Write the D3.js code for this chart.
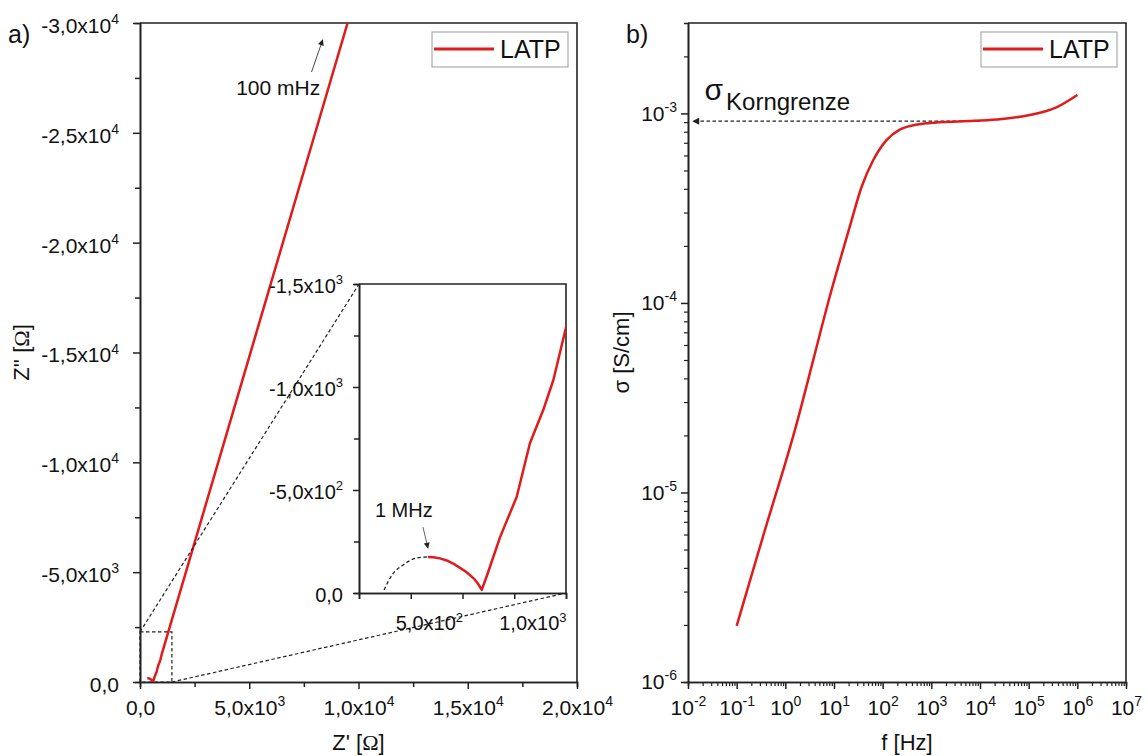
<!DOCTYPE html>
<html><head><meta charset="utf-8">
<script src="https://cdn.jsdelivr.net/npm/d3@7"></script>
<style>
body{margin:0;background:#fff}
svg text{font-family:"Liberation Sans",Arial,sans-serif;fill:#111}
</style>
</head><body>
<svg id="c" width="1148" height="756"></svg>
<script>
// ---------- data ----------
const seriesName = "LATP";
// Nyquist data (Z' in Ohm, -Z'' in Ohm)
const nyqZre = [333, 360, 391, 424, 455, 488, 515, 536, 555, 575, 593, 620, 681, 762, 826, 890, 939, 999, 3000, 6000, 9500, 9800];
const nyqZim = [175, 174, 168, 158, 143, 122, 104, 87, 70, 45, 15, 90, 270, 467, 728, 888, 1034, 1285, 8040, 18180, 30000, 31000];
// dashed semicircle fit (inset)
const arcZre = [121, 159, 213, 280, 333];
const arcZim = [15, 87, 136, 170, 175];
const zoomBox = [1460, 2280];
const leftXTicks = [0, 5000, 10000, 15000, 20000];
const leftXTickLabels = ["0,0", "5,0x10^3", "1,0x10^4", "1,5x10^4", "2,0x10^4"];
const leftYTicks = [0, 5000, 10000, 15000, 20000, 25000, 30000];
const leftYTickLabels = ["0,0", "-5,0x10^3", "-1,0x10^4", "-1,5x10^4", "-2,0x10^4", "-2,5x10^4", "-3,0x10^4"];
const insetXTicks = [500, 1000];
const insetXTickLabels = ["5,0x10^2", "1,0x10^3"];
const insetYTicks = [0, 500, 1000, 1500];
const insetYTickLabels = ["0,0", "-5,0x10^2", "-1,0x10^3", "-1,5x10^3"];
// conductivity vs frequency
const freq  = [0.1, 0.352, 1.71, 3.74, 7.85, 13.2, 22.9, 36.8, 63.8, 120, 224, 427, 933, 4470, 21900, 105000, 372000, 1.0e6];
const sigma = [1.98e-6, 5.92e-6, 2.31e-5, 4.99e-5, 1.04e-4, 1.67e-4, 2.72e-4, 4.09e-4, 5.66e-4, 7.23e-4, 8.22e-4, 8.67e-4, 8.91e-4, 9.1e-4, 9.29e-4, 9.8e-4, 1.076e-3, 1.25e-3];
const rightXTicks = [1e-2, 1e-1, 1e0, 1e1, 1e2, 1e3, 1e4, 1e5, 1e6, 1e7];
const rightXTickLabels = ["10^-2", "10^-1", "10^0", "10^1", "10^2", "10^3", "10^4", "10^5", "10^6", "10^7"];
const rightYTicks = [1e-6, 1e-5, 1e-4, 1e-3];
const rightYTickLabels = ["10^-6", "10^-5", "10^-4", "10^-3"];
const sigmaGB = 9.1e-4;

// ---------- setup ----------
const RED = "#e01b1b", INK = "#222";
const svg = d3.select("#c");
const defs = svg.append("defs");
defs.append("marker").attr("id", "arr").attr("viewBox", "0 0 10 10").attr("refX", 9).attr("refY", 5)
  .attr("markerWidth", 7).attr("markerHeight", 6).attr("markerUnits", "userSpaceOnUse").attr("orient", "auto")
  .append("path").attr("d", "M0,0 L10,5 L0,10 Z").attr("fill", "#222");
defs.append("marker").attr("id", "arr2").attr("viewBox", "0 0 10 10").attr("refX", 9).attr("refY", 5)
  .attr("markerWidth", 10).attr("markerHeight", 7).attr("markerUnits", "userSpaceOnUse").attr("orient", "auto")
  .append("path").attr("d", "M0,0 L10,5 L0,10 Z").attr("fill", "#222");

function supLabel(sel, fs, supFs) {
  sel.each(function () {
    const t = d3.select(this);
    const s = t.text();
    const parts = s.split("^");
    t.text(null).style("font-size", fs + "px");
    t.append("tspan").text(parts[0]);
    if (parts.length > 1) t.append("tspan").attr("dy", -fs * 0.42).style("font-size", supFs + "px").text(parts[1]);
  });
}
function styleAxis(g) {
  g.select(".domain").attr("stroke", INK).attr("stroke-width", 1.6);
  g.selectAll(".tick line").attr("stroke", INK).attr("stroke-width", 1.5);
}

// ================= panel a =================
const xL = d3.scaleLinear([0, 20000], [140, 577]);
const yL = d3.scaleLinear([0, 30000], [682, 23]);

defs.append("clipPath").attr("id", "clipL").append("rect")
  .attr("x", 140).attr("y", 23).attr("width", 437).attr("height", 659);

const gLxm = svg.append("g").attr("transform", "translate(0,682)")
  .call(d3.axisBottom(xL).tickValues(d3.range(2500, 20000, 5000)).tickSize(5).tickFormat(""));
styleAxis(gLxm);
const gLym = svg.append("g").attr("transform", "translate(140,0)")
  .call(d3.axisLeft(yL).tickValues(d3.range(2500, 30000, 5000)).tickSize(5).tickFormat(""));
styleAxis(gLym);
const gLx = svg.append("g").attr("transform", "translate(0,682)")
  .call(d3.axisBottom(xL).tickValues(leftXTicks).tickSize(7).tickSizeOuter(0).tickPadding(11)
    .tickFormat((d, i) => leftXTickLabels[i]));
styleAxis(gLx); supLabel(gLx.selectAll(".tick text"), 21, 14);
const gLy = svg.append("g").attr("transform", "translate(140,0)")
  .call(d3.axisLeft(yL).tickValues(leftYTicks).tickSize(7).tickSizeOuter(0).tickPadding(14)
    .tickFormat((d, i) => leftYTickLabels[i]));
styleAxis(gLy); supLabel(gLy.selectAll(".tick text"), 21, 14);
gLy.selectAll(".tick text").attr("dy", "0.45em");
svg.append("path").attr("d", `M${xL(0)},${yL(30000)}H${xL(20000)}V${yL(0)}`)
  .attr("fill", "none").attr("stroke", INK).attr("stroke-width", 1.6);

const nyq = nyqZre.map((d, i) => [d, nyqZim[i]]);
svg.append("path").datum(nyq).attr("clip-path", "url(#clipL)")
  .attr("d", d3.line().x(d => xL(d[0])).y(d => yL(d[1])))
  .attr("fill", "none").attr("stroke", RED).attr("stroke-width", 2.5).attr("stroke-linejoin", "round");

const dash = "3.5,2.5";
svg.append("rect").attr("x", xL(0)).attr("y", yL(zoomBox[1]))
  .attr("width", xL(zoomBox[0]) - xL(0)).attr("height", yL(0) - yL(zoomBox[1]))
  .attr("fill", "none").attr("stroke", INK).attr("stroke-width", 1.2).attr("stroke-dasharray", dash);

const xI = d3.scaleLinear([0, 1000], [359, 566]);
const yI = d3.scaleLinear([0, 1500], [593, 284]);
svg.append("line").attr("x1", xL(0)).attr("y1", yL(zoomBox[1])).attr("x2", xI(0)).attr("y2", yI(1500))
  .attr("stroke", INK).attr("stroke-width", 1.2).attr("stroke-dasharray", dash);
svg.append("line").attr("x1", xL(zoomBox[0])).attr("y1", yL(0)).attr("x2", xI(1000)).attr("y2", yI(0))
  .attr("stroke", INK).attr("stroke-width", 1.2).attr("stroke-dasharray", dash);

svg.append("line").attr("x1", xL(7850)).attr("y1", yL(27770)).attr("x2", xL(8360)).attr("y2", yL(29230))
  .attr("stroke", "#333").attr("stroke-width", 0.9).attr("marker-end", "url(#arr)");
svg.append("text").attr("x", xL(4400)).attr("y", yL(26720)).style("font-size", "21px").text("100 mHz");

// inset
svg.append("rect").attr("x", xI(0)).attr("y", yI(1500)).attr("width", xI(1000) - xI(0)).attr("height", yI(0) - yI(1500))
  .attr("fill", "#fff");
defs.append("clipPath").attr("id", "clipI").append("rect")
  .attr("x", xI(0)).attr("y", yI(1500)).attr("width", xI(1000) - xI(0)).attr("height", yI(0) - yI(1500));
const gIxm = svg.append("g").attr("transform", `translate(0,${yI(0)})`)
  .call(d3.axisBottom(xI).tickValues([0, 250, 750]).tickSize(6).tickFormat(""));
styleAxis(gIxm);
const gIx = svg.append("g").attr("transform", `translate(0,${yI(0)})`)
  .call(d3.axisBottom(xI).tickValues(insetXTicks).tickSize(6).tickSizeOuter(0).tickPadding(17)
    .tickFormat((d, i) => insetXTickLabels[i]));
styleAxis(gIx); supLabel(gIx.selectAll(".tick text"), 20, 13);
gIx.selectAll(".tick text").attr("text-anchor", "end");
const gIym = svg.append("g").attr("transform", `translate(${xI(0)},0)`)
  .call(d3.axisLeft(yI).tickValues([250, 750, 1250]).tickSize(5).tickFormat(""));
styleAxis(gIym);
const gIy = svg.append("g").attr("transform", `translate(${xI(0)},0)`)
  .call(d3.axisLeft(yI).tickValues(insetYTicks).tickSize(6).tickSizeOuter(0).tickPadding(10)
    .tickFormat((d, i) => insetYTickLabels[i]));
styleAxis(gIy); supLabel(gIy.selectAll(".tick text"), 20, 13);
gIy.selectAll(".tick text").attr("dy", "0.4em");
svg.append("path").attr("d", `M${xI(0)},${yI(1500)}H${xI(1000)}V${yI(0)}`)
  .attr("fill", "none").attr("stroke", INK).attr("stroke-width", 1.6);

const arc = arcZre.map((d, i) => [d, arcZim[i]]);
svg.append("path").datum(arc).attr("clip-path", "url(#clipI)")
  .attr("d", d3.line().x(d => xI(d[0])).y(d => yI(d[1])).curve(d3.curveMonotoneX))
  .attr("fill", "none").attr("stroke", INK).attr("stroke-width", 1.3).attr("stroke-dasharray", dash);
svg.append("path").datum(nyq).attr("clip-path", "url(#clipI)")
  .attr("d", d3.line().x(d => xI(d[0])).y(d => yI(d[1])))
  .attr("fill", "none").attr("stroke", RED).attr("stroke-width", 2.5).attr("stroke-linejoin", "round");
svg.append("line").attr("x1", xI(309)).attr("y1", yI(320)).attr("x2", xI(333)).attr("y2", yI(218))
  .attr("stroke", "#555").attr("stroke-width", 0.9).attr("marker-end", "url(#arr)");
svg.append("text").attr("x", xI(77)).attr("y", yI(369)).style("font-size", "20px").text("1 MHz");

// axis titles a
const tA = svg.append("text").attr("x", (xL(0) + xL(20000)) / 2).attr("y", 750).attr("text-anchor", "middle").style("font-size", "22px");
tA.append("tspan").text("Z' [");
tA.append("tspan").style("font-family", "'Liberation Serif',serif").text("Ω");
tA.append("tspan").text("]");
const tA2 = svg.append("text").attr("transform", `translate(29,${(yL(0) + yL(30000)) / 2}) rotate(-90)`)
  .attr("text-anchor", "middle").style("font-size", "22px");
tA2.append("tspan").text("Z'' [");
tA2.append("tspan").style("font-family", "'Liberation Serif',serif").text("Ω");
tA2.append("tspan").text("]");
svg.append("text").attr("x", 8).attr("y", 43).style("font-size", "25px").text("a)");

function legend(xRight) {
  const w = 136, h = 35, x0 = xRight - 9 - w, y0 = 32;
  svg.append("rect").attr("x", x0).attr("y", y0).attr("width", w).attr("height", h)
    .attr("fill", "#fff").attr("stroke", "#999").attr("stroke-width", 1);
  svg.append("line").attr("x1", x0 + 2).attr("x2", x0 + 62).attr("y1", y0 + 17).attr("y2", y0 + 17)
    .attr("stroke", RED).attr("stroke-width", 2.8);
  svg.append("text").attr("x", x0 + 68).attr("y", y0 + 26).style("font-size", "25px").text(seriesName);
}
legend(xL(20000));

// ================= panel b =================
const xR = d3.scaleLog([1e-2, 1e7], [688, 1126]);
const yR = d3.scaleLog([1e-6, 3e-3], [682, 23]);
const minorX = [];
for (let e = -2; e < 7; e++) for (let m = 2; m <= 9; m++) minorX.push(m * Math.pow(10, e));
const minorY = [];
for (let e = -6; e < -2; e++) for (let m = 2; m <= 9; m++) { const v = m * Math.pow(10, e); if (v < 2.95e-3) minorY.push(v); }

const gRxm = svg.append("g").attr("transform", "translate(0,682)")
  .call(d3.axisBottom(xR).tickValues(minorX).tickSize(4).tickFormat(""));
styleAxis(gRxm); gRxm.selectAll(".tick line").attr("stroke-width", 1.2);
const gRym = svg.append("g").attr("transform", "translate(688,0)")
  .call(d3.axisLeft(yR).tickValues(minorY).tickSize(4).tickFormat(""));
styleAxis(gRym); gRym.selectAll(".tick line").attr("stroke-width", 1.2);
const gRx = svg.append("g").attr("transform", "translate(0,682)")
  .call(d3.axisBottom(xR).tickValues(rightXTicks).tickSize(7).tickSizeOuter(0).tickPadding(11)
    .tickFormat((d, i) => rightXTickLabels[i]));
styleAxis(gRx); supLabel(gRx.selectAll(".tick text"), 21, 14);
const gRy = svg.append("g").attr("transform", "translate(688,0)")
  .call(d3.axisLeft(yR).tickValues(rightYTicks).tickSize(7).tickSizeOuter(0).tickPadding(4)
    .tickFormat((d, i) => rightYTickLabels[i]));
styleAxis(gRy); supLabel(gRy.selectAll(".tick text"), 21, 14);
svg.append("path").attr("d", `M${xR(1e-2)},${yR(3e-3)}H${xR(1e7)}V${yR(1e-6)}`)
  .attr("fill", "none").attr("stroke", INK).attr("stroke-width", 1.6);

svg.append("line").attr("x1", xR(1e4)).attr("y1", yR(sigmaGB)).attr("x2", xR(Math.pow(10, -1.9))).attr("y2", yR(sigmaGB))
  .attr("stroke", INK).attr("stroke-width", 1.2).attr("stroke-dasharray", dash).attr("marker-end", "url(#arr2)");
const sg = svg.append("text").attr("x", xR(Math.pow(10, -1.66))).attr("y", yR(Math.pow(10, -2.93))).style("font-size", "30px");
sg.append("tspan").text("σ");
sg.append("tspan").attr("dy", 10).attr("dx", 3).style("font-size", "24px").text("Korngrenze");

const cond = freq.map((d, i) => [d, sigma[i]]);
svg.append("path").datum(cond)
  .attr("d", d3.line().x(d => xR(d[0])).y(d => yR(d[1])).curve(d3.curveMonotoneX))
  .attr("fill", "none").attr("stroke", RED).attr("stroke-width", 2.5);

svg.append("text").attr("x", (xR(1e-2) + xR(1e7)) / 2).attr("y", 750).attr("text-anchor", "middle")
  .style("font-size", "22px").text("f [Hz]");
svg.append("text").attr("transform", `translate(629,${(yR(1e-6) + yR(3e-3)) / 2}) rotate(-90)`)
  .attr("text-anchor", "middle").style("font-size", "22px").text("σ [S/cm]");
svg.append("text").attr("x", 626).attr("y", 43).style("font-size", "25px").text("b)");
legend(xR(1e7));
</script>
</body></html>
